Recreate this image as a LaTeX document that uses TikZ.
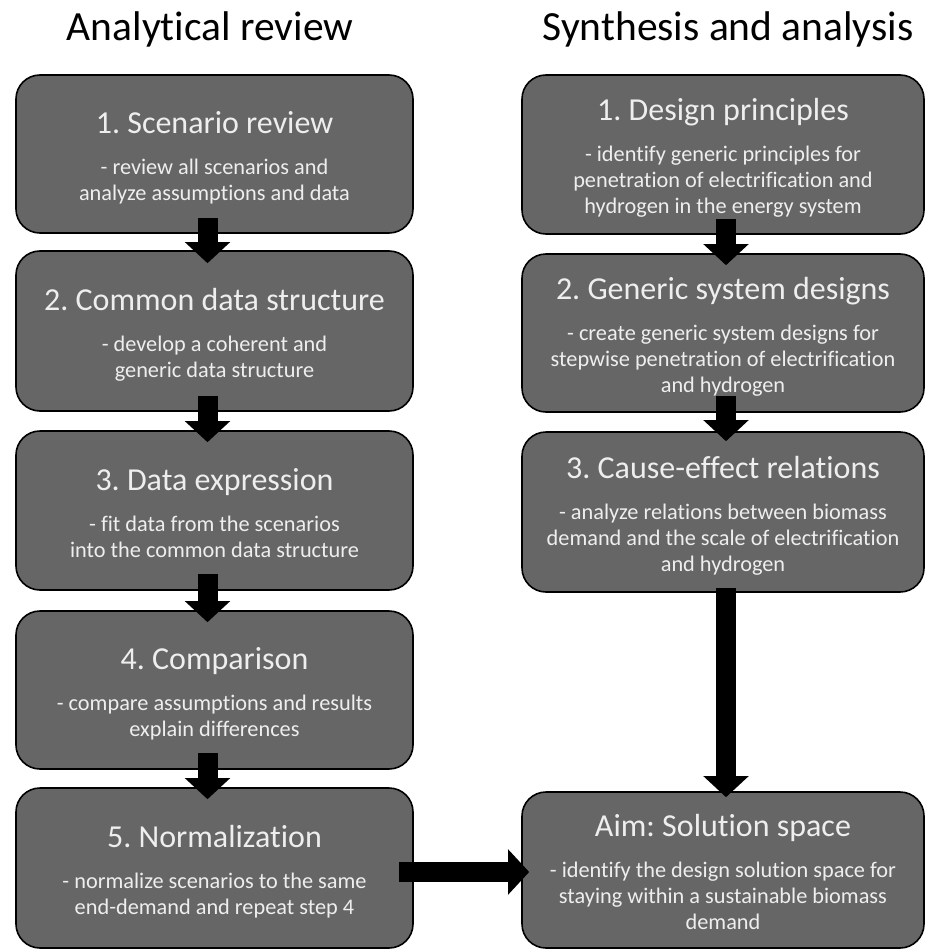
\documentclass[tikz,border=0pt]{standalone}
\usepackage{fontspec}
\setmainfont{Carlito}[Ligatures=NoCommon]
\usetikzlibrary{arrows.meta}
\definecolor{boxfill}{HTML}{666666}
\definecolor{boxtext}{HTML}{EEEEEE}
\newcommand\plaincenter{\leftskip=0pt plus 1fil\rightskip=0pt plus 1fil\parfillskip=0pt\spaceskip=0pt\xspaceskip=0pt\frenchspacing}
\newcommand\boxhead[1]{{\plaincenter\fontsize{32}{38}\selectfont\rule{0pt}{31pt}#1\par}\vspace{15pt}}
\newcommand\boxbody[1]{{\plaincenter\fontsize{22.3}{26}\selectfont #1\rule[-5pt]{0pt}{5pt}\par}}
\tikzset{
  stagebox/.style={draw=black, line width=1.6pt, fill=boxfill, rounded corners=24pt,
    text=boxtext, inner sep=0pt, align=center},
  leftbox/.style={stagebox, minimum width=397pt, text width=395pt},
  rightbox/.style={stagebox, minimum width=402pt, text width=400pt},
  bigarrow/.style={line width=20pt, draw=black, -{Triangle[width=44pt,length=21pt]}},
  coltitle/.style={font=\fontsize{41.5}{50}\selectfont, anchor=base, inner sep=0pt}
}
\begin{document}
\begin{tikzpicture}[x=1pt,y=-1pt]
\useasboundingbox (0,0) rectangle (925,952);
\node[coltitle] (t1) at (210,41) {Analytical review};
\node[coltitle] (t2) at (728,41) {Synthesis and analysis};

\node[leftbox, minimum height=158pt] (L1) at (214.5,154) {\boxhead{1. Scenario review}\boxbody{- review all scenarios and\\analyze assumptions and data}};
\node[leftbox, minimum height=160pt] (L2) at (214.5,331) {\boxhead{2. Common data structure}\boxbody{- develop a coherent and\\generic data structure}};
\node[leftbox, minimum height=159pt] (L3) at (214.5,510.5) {\boxhead{3. Data expression}\boxbody{- fit data from the scenarios\\into the common data structure}};
\node[leftbox, minimum height=158pt] (L4) at (214.5,690) {\boxhead{4. Comparison}\boxbody{- compare assumptions and results\\explain differences}};
\node[leftbox, minimum height=160pt] (L5) at (214.5,868) {\boxhead{5. Normalization}\boxbody{- normalize scenarios to the same\\end-demand and repeat step 4}};

\node[rightbox, minimum height=159pt] (R1) at (723,154.5) {\boxhead{1. Design principles}\boxbody{- identify generic principles for\\penetration of electrification and\\hydrogen in the energy system}};
\node[rightbox, minimum height=158pt] (R2) at (723,333) {\boxhead{2. Generic system designs}\boxbody{- create generic system designs for\\stepwise penetration of electrification\\and hydrogen}};
\node[rightbox, minimum height=160pt] (R3) at (723,512) {\boxhead{3. Cause-effect relations}\boxbody{- analyze relations between biomass\\demand and the scale of electrification\\and hydrogen}};
\node[rightbox, minimum height=156pt] (Aim) at (723,870) {\boxhead{Aim: Solution space}\boxbody{- identify the design solution space for\\staying within a sustainable biomass\\demand}};

\draw[bigarrow] ([xshift=-7pt,yshift=16pt]L1.south) -- ([xshift=-7pt,yshift=-13pt]L2.north);
\draw[bigarrow] ([xshift=-7pt,yshift=16pt]L2.south) -- ([xshift=-7pt,yshift=-12pt]L3.north);
\draw[bigarrow] ([xshift=-7pt,yshift=17pt]L3.south) -- ([xshift=-7pt,yshift=-12pt]L4.north);
\draw[bigarrow] ([xshift=-7pt,yshift=17pt]L4.south) -- ([xshift=-7pt,yshift=-12pt]L5.north);

\draw[bigarrow] ([xshift=3pt,yshift=16pt]R1.south) -- ([xshift=3pt,yshift=-12pt]R2.north);
\draw[bigarrow] ([xshift=3pt,yshift=17pt]R2.south) -- ([xshift=3pt,yshift=-10pt]R3.north);
\draw[bigarrow] ([xshift=3pt,yshift=5pt]R3.south) -- ([xshift=3pt,yshift=-6pt]Aim.north);

\draw[bigarrow] ([xshift=-15pt,yshift=-4pt]L5.east) -- ([xshift=8pt,yshift=-2pt]Aim.west);
\end{tikzpicture}
\end{document}
